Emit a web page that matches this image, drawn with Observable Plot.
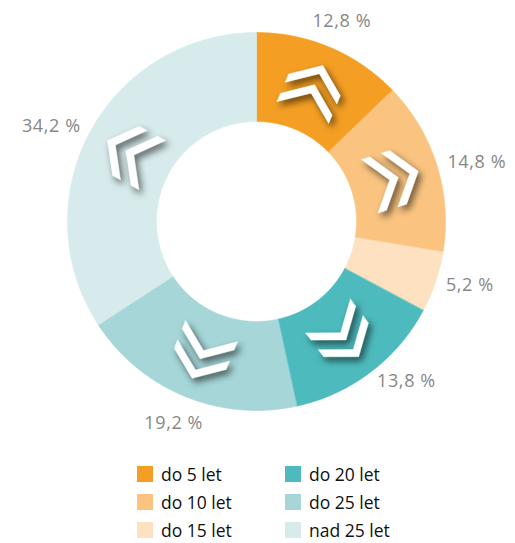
<!DOCTYPE html>
<html><head><meta charset="utf-8">
<script src="https://cdn.jsdelivr.net/npm/d3@7"></script>
<script src="https://cdn.jsdelivr.net/npm/@observablehq/plot@0.6"></script>
<style>
body{margin:0;background:#fff;font-family:"Open Sans",sans-serif;}
#chart svg{display:block;}
#legend{display:grid;grid-auto-flow:column;grid-template-rows:repeat(3,28px);grid-template-columns:148px 160px;margin-left:137px;padding-top:10px;}
.item{display:flex;align-items:center;font-size:17.5px;color:#111;}
.sw{width:16px;height:16px;margin-right:8px;flex:none;}
</style></head><body><div id="chart"></div><div id="legend"></div>
<script>
const categories = ["do 5 let","do 10 let","do 15 let","do 20 let","do 25 let","nad 25 let"];
const shares = [12.8,14.8,5.2,13.8,19.2,34.2];
const labels = ["12,8 %","14,8 %","5,2 %","13,8 %","19,2 %","34,2 %"];
const colors = ["#F49F24","#FAC480","#FDE1C1","#4DBBBD","#A6D6D8","#D7EBEC"];

const rad = Math.PI/180;
const R1 = 189, R0 = 100, RM = (R1+R0)/2, RLmid = 218, RLside = 200;
const total = d3.sum(shares);
let acc = 0;
const slices = categories.map((c,i)=>{
  const a0 = acc/total*360; acc += shares[i]; const a1 = acc/total*360;
  const mid = (a0+a1)/2, s = Math.sin(mid*rad);
  return {c, a0, a1, mid, share:shares[i], label:labels[i],
    anchor: Math.abs(s) < 0.5 ? "middle" : (s > 0 ? "start" : "end")};
});
const pts = [];
for (const s of slices){
  const n = Math.max(2, Math.ceil((s.a1-s.a0)/0.5));
  for (let k=0;k<=n;k++){const a=(s.a0+(s.a1-s.a0)*k/n)*rad; pts.push({c:s.c,x:R1*Math.sin(a),y:R1*Math.cos(a)});}
  for (let k=n;k>=0;k--){const a=(s.a0+(s.a1-s.a0)*k/n)*rad; pts.push({c:s.c,x:R0*Math.sin(a),y:R0*Math.cos(a)});}
}
// decorative double chevrons (only in slices wide enough)
const chev = [];
const W=28, H=21, T=9;
slices.filter(s=>s.share>=10).forEach(s=>{
  const t=s.mid*rad, dx=Math.sin(t), dy=Math.cos(t), px=Math.cos(t), py=-Math.sin(t);
  const cx=RM*dx, cy=RM*dy;
  [25,4].forEach((a,j)=>{
    const local=[[-W,a-H],[0,a],[W,a-H],[W,a-H-T],[0,a-T],[-W,a-H-T]];
    local.forEach(([u,f])=>chev.push({k:s.c+"_"+j,x:cx+u*px+f*dx,y:cy+u*py+f*dy}));
  });
});
const textOpts = (r)=>({text:"label",fill:"#878787",fontSize:18,fontFamily:"Open Sans",
  x:d=>r*Math.sin(d.mid*rad), y:d=>r*Math.cos(d.mid*rad)});
const plot = Plot.plot({
  width:515, height:450, margin:0,
  x:{domain:[-256,259], axis:null},
  y:{domain:[-229,221], axis:null},
  color:{domain:categories, range:colors},
  marks:[
    Plot.line(pts,{x:"x",y:"y",z:"c",fill:"c",stroke:"c",strokeWidth:0.6,curve:"linear-closed"}),
    Plot.line(chev,{x:"x",y:"y",z:"k",fill:"#ffffff",stroke:"#ffffff",strokeWidth:0.5,curve:"linear-closed"}),
    Plot.text(slices.filter(d=>d.anchor==="middle"),{...textOpts(RLmid),textAnchor:"middle"}),
    Plot.text(slices.filter(d=>d.anchor==="start"),{...textOpts(RLside),textAnchor:"start"}),
    Plot.text(slices.filter(d=>d.anchor==="end"),{...textOpts(RLside),textAnchor:"end"})
  ]
});
const lines = plot.querySelectorAll('g[aria-label="line"]');
if (lines.length > 1) lines[1].setAttribute("style","filter: drop-shadow(3px 4px 3.5px rgba(0,0,0,0.6))");
plot.querySelectorAll('g[aria-label="text"]').forEach(g=>g.setAttribute("letter-spacing","0.6"));
document.getElementById("chart").appendChild(plot);
const lg = d3.select("#legend");
categories.forEach((c,i)=>{
  const it = lg.append("div").attr("class","item");
  it.append("div").attr("class","sw").style("background",colors[i]);
  it.append("span").text(c);
});
</script></body></html>
